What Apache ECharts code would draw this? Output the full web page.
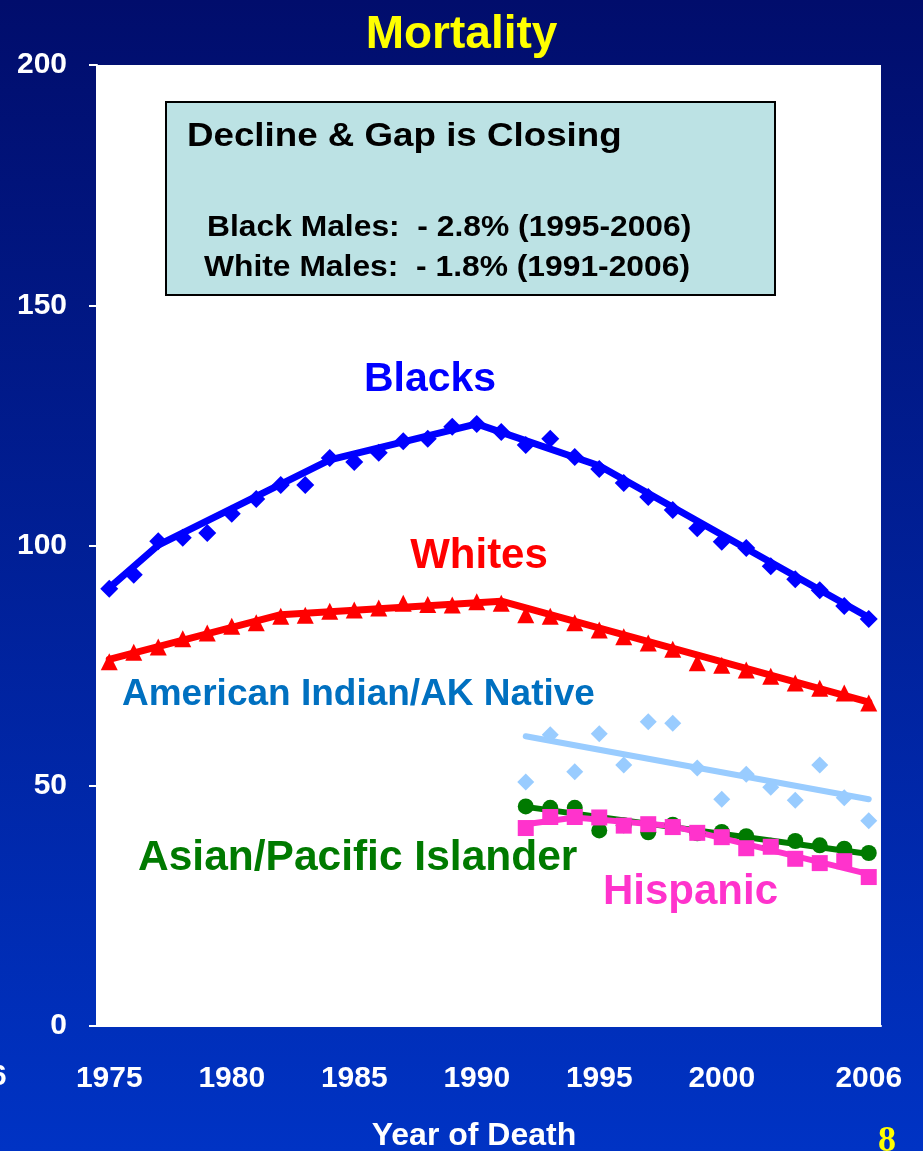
<!DOCTYPE html>
<html>
<head>
<meta charset="utf-8">
<title>Mortality</title>
<script src="https://cdn.jsdelivr.net/npm/echarts@6/dist/echarts.min.js"></script>
<style>
  html, body { margin: 0; padding: 0; }
  #chart { width: 923px; height: 1151px; }
</style>
</head>
<body>
<div id="chart"></div>
<script>
// Years of death shown on the category axis
const years = [];
for (let y = 1975; y <= 2006; y++) years.push(String(y));
const aiYears = years.slice(years.indexOf('1992'));

// Observed rates per 100,000
const blacks = [91, 93.9, 100.9, 101.6, 102.6, 106.6, 109.7, 112.6, 112.6, 118.2,
  117.4, 119.3, 121.7, 122.2, 124.7, 125.3, 123.6, 120.9, 122.2, 118.4,
  115.9, 113, 110.1, 107.4, 103.6, 100.8, 99.5, 95.7, 93, 90.7, 87.4, 84.7];
const whites = [75.8, 77.8, 78.9, 80.6, 81.8, 83.2, 83.9, 85.3, 85.5, 86.3,
  86.6, 87, 88, 87.7, 87.6, 88.3, 88, 85.6, 85.3, 83.9,
  82.4, 81, 79.7, 78.4, 75.6, 75.1, 74.1, 72.8, 71.4, 70.3, 69.3, 67.2];
const aian = [50.8, 60.6, 52.9, 60.8, 54.3, 63.3, 63, 53.7, 47.2, 52.4, 49.7, 47, 54.3, 47.5, 42.7];
const api = [45.7, 45.4, 45.4, 40.7, 41.8, 40.3, 41.9, 40.1, 40.4, 39.5, 37.5, 38.5, 37.6, 36.9, 36];
const hispanic = [41.2, 43.5, 43.5, 43.4, 41.7, 42, 41.4, 40.2, 39.3, 37, 37.3, 34.8, 33.9, 34.3, 31];

// Fitted trend segments (joinpoints)
const blacksTrend = [['1975', 91.2], ['1977', 100.1], ['1984', 117.8], ['1990', 125.3], ['1995', 116.6], ['2006', 85]];
const whitesTrend = [['1975', 76.3], ['1982', 85.6], ['1991', 88.4], ['2006', 67.4]];
const aianTrend = [['1992', 60.3], ['2006', 47.2]];
const apiTrend = [['1992', 45.6], ['2006', 35.8]];
const hispanicTrend = [['1992', 42], ['1994', 43.4], ['1998', 41.6], ['2006', 31.6]];

const yTicks = [0, 50, 100, 150, 200];
const xLabelYears = ['1975', '1980', '1985', '1990', '1995', '2000', '2006'];

const C = {
  black: '#0000ff', white: '#ff0000', aian: '#99ccff', aianText: '#0070c0',
  api: '#007a00', hisp: '#ff33cc'
};
const FONT = '"Liberation Sans", Arial, sans-serif';

function trend(name, data, color, width) {
  return { name: name, type: 'line', data: data, showSymbol: false, symbol: 'none',
    lineStyle: { color: color, width: width, cap: 'round', join: 'round' }, z: 2, silent: true };
}
function marks(name, data, color, symbol, size) {
  return { name: name, type: 'scatter', data: data, symbol: symbol, symbolSize: size,
    itemStyle: { color: color, opacity: 1 }, z: 3, silent: true };
}
function label(text, x, y, color, size, opts) {
  return Object.assign({ type: 'text', x: x, y: y, z: 11,
    style: { text: text, fill: color, font: 'bold ' + size + 'px ' + FONT, textVerticalAlign: 'middle' } }, opts || {});
}

const chart = echarts.init(document.getElementById('chart'), null, { renderer: 'canvas' });
chart.setOption({
  animation: false,
  backgroundColor: {
    type: 'linear', x: 0, y: 0, x2: 0, y2: 1,
    colorStops: [{ offset: 0, color: '#010d6c' }, { offset: 1, color: '#0033c4' }]
  },
  textStyle: { fontFamily: FONT },
  grid: { left: 97, right: 42, top: 65, bottom: 125, show: true, backgroundColor: '#ffffff', borderWidth: 0 },
  xAxis: {
    type: 'category', data: years, boundaryGap: true,
    axisLine: { lineStyle: { color: '#ffffff', width: 2 } },
    axisTick: { interval: 0, length: 8, lineStyle: { color: '#ffffff', width: 2 } },
    axisLabel: {
      interval: (i, v) => xLabelYears.includes(v),
      color: '#ffffff', fontWeight: 'bold', fontSize: 30, margin: 38, fontFamily: FONT
    },
    splitLine: { show: false }
  },
  yAxis: {
    type: 'value', min: yTicks[0], max: yTicks[yTicks.length - 1], interval: 50,
    axisLine: { show: true, lineStyle: { color: '#ffffff', width: 2 } },
    axisTick: { show: true, length: 8, lineStyle: { color: '#ffffff', width: 2 } },
    axisLabel: { color: '#ffffff', fontWeight: 'bold', fontSize: 30, margin: 30, fontFamily: FONT },
    splitLine: { show: false }
  },
  series: [
    trend('Blacks trend', blacksTrend, C.black, 7),
    marks('Blacks', blacks.map((v, i) => [years[i], v]), C.black, 'diamond', 18),
    trend('Whites trend', whitesTrend, C.white, 7),
    marks('Whites', whites.map((v, i) => [years[i], v]), C.white, 'triangle', 17),
    trend('American Indian/AK Native trend', aianTrend, C.aian, 6),
    marks('American Indian/AK Native', aian.map((v, i) => [aiYears[i], v]), C.aian, 'diamond', 17),
    trend('Asian/Pacific Islander trend', apiTrend, C.api, 6),
    marks('Asian/Pacific Islander', api.map((v, i) => [aiYears[i], v]), C.api, 'circle', 16),
    trend('Hispanic trend', hispanicTrend, C.hisp, 6),
    marks('Hispanic', hispanic.map((v, i) => [aiYears[i], v]), C.hisp, 'rect', 16)
  ],
  graphic: [
    { type: 'text', left: 'center', top: 12, style: { text: 'Mortality', fill: '#ffff00', font: 'bold 46px ' + FONT } },
    { type: 'rect', shape: { x: 166, y: 102, width: 609, height: 193 },
      style: { fill: '#bce2e4', stroke: '#000000', lineWidth: 2 }, z: 10 },
    label('Decline & Gap is Closing', 187, 137, '#000000', 34, { scaleX: 1.08 }),
    label('Black Males:  - 2.8% (1995-2006)', 207, 228, '#000000', 30, { scaleX: 1.06 }),
    label('White Males:  - 1.8% (1991-2006)', 204, 268, '#000000', 30, { scaleX: 1.06 }),
    { type: 'text', x: 430, y: 380, z: 11, style: { text: 'Blacks', fill: C.black, font: 'bold 41px ' + FONT,
      textAlign: 'center', textVerticalAlign: 'middle' } },
    { type: 'text', x: 479, y: 556, z: 11, style: { text: 'Whites', fill: C.white, font: 'bold 42px ' + FONT,
      textAlign: 'center', textVerticalAlign: 'middle' } },
    label('American Indian/AK Native', 122, 695, C.aianText, 37),
    label('Asian/Pacific Islander', 138, 858, C.api, 42.5),
    label('Hispanic', 603, 892, C.hisp, 42),
    { type: 'text', x: 474, y: 1136, style: { text: 'Year of Death', fill: '#ffffff',
      font: 'bold 32px ' + FONT, textAlign: 'center', textVerticalAlign: 'middle' } },
    { type: 'text', x: -10, y: 1077, style: { text: '6', fill: '#ffffff',
      font: 'bold 30px ' + FONT, textVerticalAlign: 'middle' } },
    { type: 'text', x: 878, y: 1124, style: { text: '8', fill: '#ffff00',
      font: 'bold 36px "Liberation Serif", "Times New Roman", serif' } }
  ]
});
</script>
</body>
</html>
